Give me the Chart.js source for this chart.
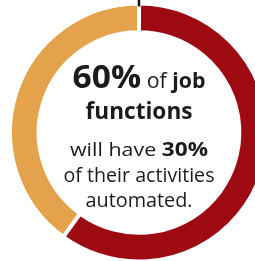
<!DOCTYPE html>
<html>
<head>
<meta charset="utf-8">
<script src="https://cdn.jsdelivr.net/npm/chart.js@4/dist/chart.umd.min.js"></script>
<style>
  html, body { margin: 0; padding: 0; background: #fff; overflow: hidden; width: 255px; height: 261px; }
  #wrap { width: 278px; height: 265px; position: absolute; left: 0; top: 0; }
</style>
</head>
<body>
<div id="wrap"><canvas id="c" width="278" height="265"></canvas></div>
<script>
// ---- data ----
const categories = ['Job functions with 30% of activities automated', 'Other job functions'];
const shareValues = [60, 40];
const sliceColors = ['#9d0a12', '#e4a24d'];

// centre text (content)
const centerLines = [
  [['60%', true], [' of ', false], ['job', true]],
  [['functions', true]],
  [['will have ', false], ['30%', true]],
  [['of their activities', false]],
  [['automated.', false]]
];

// layout of centre text: font sizes per part, baseline offset from centre, target width
const lineLayout = [
  { dy: -44.5, width: 133, sizes: [33, 21, 21] },
  { dy: -13.5, width: 107, sizes: [24] },
  { dy: 23,    width: 138, sizes: [18.5, 19.5] },
  { dy: 49,    width: 151, sizes: [19.5] },
  { dy: 74,    width: 107, sizes: [19.5] }
];

const FONT = '"Open Sans", "Noto Sans", sans-serif';

const centerTextPlugin = {
  id: 'centerText',
  afterDraw(chart) {
    const meta = chart.getDatasetMeta(0);
    const arc = meta.data[0];
    const cx = arc.x, cy = arc.y;
    const ctx = chart.ctx;
    ctx.save();
    // tick mark at top
    const outer = arc.outerRadius - 2;
    ctx.strokeStyle = '#111';
    ctx.lineWidth = 2.5;
    ctx.beginPath();
    ctx.moveTo(cx, 0);
    ctx.lineTo(cx, cy - outer + 1);
    ctx.stroke();

    ctx.fillStyle = '#1b1b1b';
    ctx.textBaseline = 'alphabetic';
    ctx.textAlign = 'left';
    centerLines.forEach((parts, i) => {
      const lay = lineLayout[i];
      let total = 0;
      const widths = parts.map((p, j) => {
        ctx.font = (p[1] ? '700 ' : '400 ') + lay.sizes[j] + 'px ' + FONT;
        const w = ctx.measureText(p[0]).width;
        total += w;
        return w;
      });
      const s = lay.width / total;
      ctx.save();
      ctx.translate(cx - lay.width / 2, cy + lay.dy);
      ctx.scale(s, 1);
      let x = 0;
      parts.forEach((p, j) => {
        ctx.font = (p[1] ? '700 ' : '400 ') + lay.sizes[j] + 'px ' + FONT;
        ctx.fillText(p[0], x, 0);
        x += widths[j];
      });
      ctx.restore();
    });
    ctx.restore();
  }
};

new Chart(document.getElementById('c'), {
  type: 'doughnut',
  data: {
    labels: categories,
    datasets: [{
      data: shareValues,
      backgroundColor: sliceColors,
      borderColor: '#ffffff',
      borderWidth: 4,
      hoverBorderWidth: 4
    }]
  },
  options: {
    responsive: false,
    animation: false,
    devicePixelRatio: 1,
    radius: 129,
    cutout: 101.5,
    layout: { padding: 0 },
    plugins: {
      legend: { display: false },
      tooltip: { enabled: false }
    }
  },
  plugins: [centerTextPlugin]
});
</script>
</body>
</html>
